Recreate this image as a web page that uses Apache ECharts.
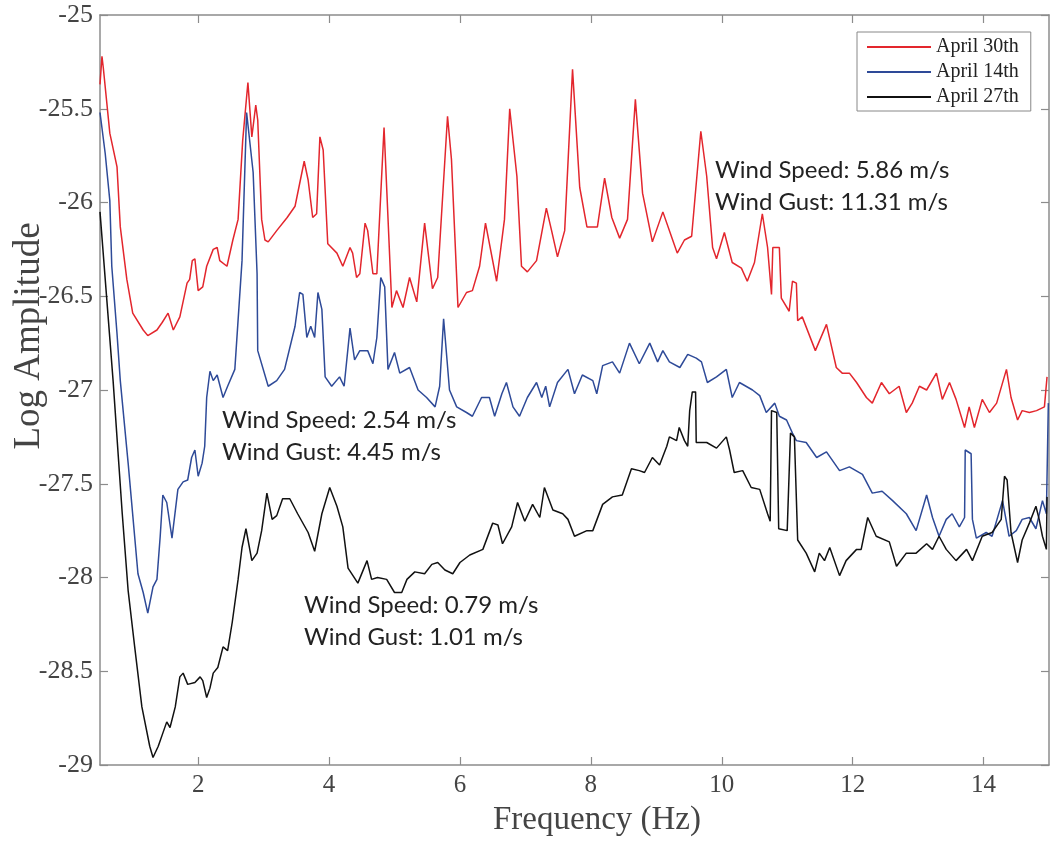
<!DOCTYPE html>
<html>
<head>
<meta charset="utf-8">
<title>Log Amplitude vs Frequency</title>
<script src="https://cdn.jsdelivr.net/npm/echarts@6.0.0/dist/echarts.min.js"></script>
<style>
  html, body { margin: 0; padding: 0; background: #fff; }
  #chart { width: 1054px; height: 845px; }
</style>
</head>
<body>
<div id="chart"></div>
<script>
// April 30th (red)
var redFreq = [0.50,0.53,0.55,0.65,0.76,0.81,0.91,1.00,1.16,1.23,1.37,1.45,1.54,1.62,1.72,1.83,1.87,1.91,1.95,2.00,2.07,2.13,2.23,2.29,2.33,2.44,2.53,2.61,2.68,2.76,2.82,2.84,2.88,2.91,2.97,3.02,3.07,3.20,3.36,3.48,3.55,3.62,3.68,3.75,3.81,3.86,3.91,3.98,4.12,4.21,4.32,4.36,4.42,4.47,4.55,4.59,4.67,4.73,4.84,4.96,5.03,5.13,5.23,5.34,5.46,5.58,5.66,5.81,5.87,5.97,6.10,6.19,6.30,6.39,6.56,6.68,6.76,6.87,6.94,7.03,7.17,7.32,7.40,7.49,7.60,7.72,7.83,7.94,8.10,8.21,8.32,8.44,8.56,8.68,8.79,8.94,9.10,9.25,9.32,9.43,9.54,9.68,9.77,9.86,9.92,10.04,10.16,10.30,10.39,10.50,10.62,10.70,10.76,10.78,10.88,10.91,11.03,11.08,11.14,11.16,11.23,11.43,11.60,11.75,11.84,11.95,12.06,12.21,12.30,12.44,12.56,12.71,12.82,12.91,13.02,13.13,13.28,13.37,13.48,13.58,13.71,13.78,13.86,13.98,14.09,14.20,14.35,14.42,14.52,14.59,14.70,14.81,14.93,14.97];
var redAmp = [-25.37,-25.22,-25.28,-25.63,-25.81,-26.13,-26.41,-26.59,-26.68,-26.71,-26.68,-26.64,-26.59,-26.68,-26.61,-26.43,-26.41,-26.31,-26.30,-26.47,-26.45,-26.34,-26.25,-26.24,-26.31,-26.34,-26.20,-26.09,-25.67,-25.36,-25.65,-25.66,-25.48,-25.56,-26.09,-26.20,-26.21,-26.15,-26.08,-26.02,-25.90,-25.78,-25.88,-26.08,-26.06,-25.65,-25.72,-26.22,-26.27,-26.34,-26.24,-26.27,-26.40,-26.38,-26.11,-26.15,-26.38,-26.38,-25.60,-26.56,-26.47,-26.56,-26.40,-26.53,-26.11,-26.46,-26.40,-25.54,-25.77,-26.56,-26.48,-26.47,-26.34,-26.11,-26.42,-26.09,-25.50,-25.86,-26.34,-26.37,-26.31,-26.03,-26.15,-26.29,-26.15,-25.29,-25.92,-26.13,-26.13,-25.87,-26.08,-26.19,-26.09,-25.45,-25.95,-26.21,-26.05,-26.20,-26.27,-26.20,-26.18,-25.62,-25.86,-26.24,-26.30,-26.16,-26.32,-26.35,-26.42,-26.32,-26.06,-26.24,-26.49,-26.24,-26.24,-26.51,-26.58,-26.42,-26.43,-26.63,-26.61,-26.79,-26.65,-26.88,-26.91,-26.91,-26.96,-27.04,-27.07,-26.96,-27.02,-26.98,-27.12,-27.07,-26.98,-27.00,-26.91,-27.05,-26.96,-27.05,-27.20,-27.09,-27.20,-27.05,-27.12,-27.07,-26.89,-27.04,-27.16,-27.11,-27.12,-27.11,-27.09,-26.93];

// April 14th (blue)
var blueFreq = [0.50,0.52,0.58,0.65,0.68,0.76,0.81,0.93,1.08,1.16,1.23,1.31,1.37,1.42,1.46,1.52,1.60,1.69,1.77,1.84,1.90,1.95,2.00,2.06,2.10,2.13,2.18,2.23,2.29,2.38,2.45,2.56,2.67,2.74,2.84,2.90,2.91,3.07,3.20,3.32,3.48,3.55,3.60,3.66,3.72,3.78,3.83,3.89,3.94,4.04,4.16,4.23,4.32,4.39,4.47,4.59,4.67,4.73,4.79,4.85,4.90,5.00,5.08,5.23,5.36,5.49,5.62,5.69,5.75,5.84,5.95,6.10,6.19,6.33,6.45,6.53,6.64,6.71,6.81,6.91,7.03,7.17,7.25,7.31,7.37,7.49,7.65,7.75,7.87,8.03,8.09,8.18,8.33,8.44,8.59,8.74,8.90,9.02,9.10,9.20,9.36,9.48,9.61,9.69,9.78,9.92,10.07,10.16,10.27,10.47,10.58,10.68,10.81,10.88,10.99,11.08,11.14,11.29,11.45,11.60,11.80,11.95,12.15,12.30,12.45,12.61,12.82,12.97,13.13,13.22,13.32,13.43,13.52,13.63,13.71,13.72,13.81,13.83,13.89,14.04,14.13,14.29,14.39,14.50,14.59,14.70,14.80,14.90,14.96,14.99];
var blueAmp = [-25.52,-25.51,-25.74,-25.99,-26.34,-26.70,-26.95,-27.39,-27.98,-28.08,-28.19,-28.05,-28.01,-27.78,-27.56,-27.60,-27.79,-27.53,-27.49,-27.48,-27.36,-27.32,-27.46,-27.39,-27.30,-27.04,-26.90,-26.95,-26.92,-27.04,-26.98,-26.89,-26.31,-25.52,-25.84,-26.38,-26.79,-26.98,-26.95,-26.89,-26.66,-26.48,-26.49,-26.72,-26.66,-26.72,-26.48,-26.57,-26.93,-26.98,-26.93,-26.98,-26.67,-26.84,-26.79,-26.79,-26.86,-26.72,-26.40,-26.45,-26.89,-26.80,-26.91,-26.88,-27.00,-27.04,-27.09,-26.98,-26.62,-27.00,-27.09,-27.12,-27.14,-27.04,-27.04,-27.14,-27.02,-26.96,-27.09,-27.14,-27.04,-26.96,-27.04,-26.98,-27.09,-26.96,-26.89,-27.02,-26.92,-26.95,-27.02,-26.87,-26.85,-26.91,-26.75,-26.86,-26.75,-26.85,-26.79,-26.85,-26.88,-26.81,-26.83,-26.85,-26.96,-26.93,-26.89,-27.04,-26.96,-27.00,-27.03,-27.12,-27.07,-27.14,-27.16,-27.23,-27.27,-27.28,-27.36,-27.33,-27.43,-27.41,-27.45,-27.55,-27.54,-27.59,-27.66,-27.75,-27.56,-27.68,-27.78,-27.69,-27.66,-27.73,-27.68,-27.32,-27.34,-27.69,-27.79,-27.76,-27.78,-27.59,-27.78,-27.75,-27.69,-27.68,-27.74,-27.59,-27.66,-27.07];

// April 27th (black)
var blackFreq = [0.50,0.70,0.84,0.93,1.03,1.14,1.26,1.31,1.39,1.46,1.52,1.57,1.65,1.72,1.77,1.84,1.95,2.03,2.07,2.13,2.18,2.23,2.30,2.38,2.45,2.52,2.61,2.67,2.73,2.82,2.90,2.97,3.05,3.13,3.20,3.29,3.40,3.52,3.68,3.78,3.89,4.01,4.12,4.21,4.29,4.44,4.58,4.65,4.74,4.88,5.00,5.11,5.19,5.31,5.46,5.57,5.66,5.77,5.89,6.00,6.15,6.35,6.50,6.58,6.65,6.79,6.88,6.99,7.11,7.22,7.29,7.42,7.57,7.65,7.75,7.94,8.03,8.18,8.33,8.48,8.62,8.74,8.82,8.94,9.05,9.16,9.20,9.31,9.35,9.43,9.48,9.51,9.55,9.60,9.61,9.77,9.92,10.07,10.12,10.19,10.32,10.45,10.58,10.70,10.74,10.76,10.84,10.87,11.00,11.05,11.11,11.16,11.29,11.42,11.49,11.57,11.65,11.80,11.90,12.06,12.13,12.23,12.36,12.56,12.67,12.82,12.97,13.13,13.22,13.32,13.43,13.58,13.74,13.83,13.98,14.13,14.27,14.32,14.36,14.42,14.52,14.59,14.70,14.80,14.85,14.90,14.96,14.97];
var blackAmp = [-26.05,-26.95,-27.66,-28.07,-28.37,-28.69,-28.90,-28.96,-28.90,-28.83,-28.77,-28.80,-28.69,-28.53,-28.51,-28.57,-28.56,-28.53,-28.55,-28.64,-28.59,-28.51,-28.48,-28.37,-28.39,-28.24,-28.01,-27.84,-27.74,-27.91,-27.87,-27.75,-27.55,-27.69,-27.67,-27.58,-27.58,-27.66,-27.76,-27.86,-27.66,-27.52,-27.62,-27.73,-27.95,-28.03,-27.91,-28.01,-28.00,-28.01,-28.08,-28.08,-28.01,-27.97,-27.98,-27.93,-27.92,-27.96,-27.98,-27.92,-27.88,-27.85,-27.71,-27.72,-27.82,-27.73,-27.60,-27.70,-27.61,-27.68,-27.52,-27.64,-27.66,-27.69,-27.78,-27.75,-27.75,-27.61,-27.57,-27.56,-27.42,-27.43,-27.44,-27.36,-27.40,-27.30,-27.25,-27.27,-27.20,-27.27,-27.30,-27.11,-27.01,-27.01,-27.28,-27.28,-27.31,-27.25,-27.32,-27.44,-27.43,-27.52,-27.53,-27.66,-27.70,-27.11,-27.12,-27.74,-27.75,-27.23,-27.25,-27.80,-27.87,-27.97,-27.87,-27.91,-27.84,-27.99,-27.91,-27.85,-27.85,-27.68,-27.78,-27.81,-27.94,-27.87,-27.87,-27.82,-27.85,-27.78,-27.85,-27.91,-27.85,-27.91,-27.78,-27.76,-27.69,-27.46,-27.48,-27.76,-27.92,-27.80,-27.71,-27.62,-27.69,-27.78,-27.85,-27.57];

var seriesNames = ['April 30th', 'April 14th', 'April 27th'];
var seriesColors = ['#e3262d', '#2e4a98', '#111111'];
var xTicks = [2, 4, 6, 8, 10, 12, 14];
var notes = [
  ['Wind Speed: 5.86 m/s', 'Wind Gust: 11.31 m/s'],
  ['Wind Speed: 2.54 m/s', 'Wind Gust: 4.45 m/s'],
  ['Wind Speed: 0.79 m/s', 'Wind Gust: 1.01 m/s']
];

function pairs(fs, as) {
  var out = [];
  for (var i = 0; i < fs.length; i++) {
    out.push([fs[i], as[i]]);
  }
  return out;
}

var serifFont = '"Liberation Serif", "Times New Roman", serif';
var sansFont = 'Lato, "Open Sans", sans-serif';
var axisGray = '#8c8c8c';

function xAxisOpt(pos, showLabel) {
  return {
    type: 'value',
    position: pos,
    min: 0.5,
    max: 15,
    axisLine: { show: true, onZero: false, lineStyle: { color: axisGray, width: 1.5 } },
    axisTick: { show: true, inside: true, length: 8, customValues: xTicks, lineStyle: { color: axisGray, width: 1.2 } },
    axisLabel: { show: showLabel, customValues: xTicks, margin: 8, color: '#444', fontFamily: serifFont, fontSize: 25 },
    splitLine: { show: false }
  };
}

function yAxisOpt(pos, showLabel) {
  return {
    type: 'value',
    position: pos,
    min: -29,
    max: -25,
    interval: 0.5,
    axisLine: { show: true, onZero: false, lineStyle: { color: axisGray, width: 1.5 } },
    axisTick: { show: true, inside: true, length: 8, lineStyle: { color: axisGray, width: 1.2 } },
    axisLabel: { show: showLabel, margin: 7, color: '#444', fontFamily: serifFont, fontSize: 26 },
    splitLine: { show: false }
  };
}

var noteSpots = [[715, 160], [222, 410], [304, 595]];
var graphics = [
  {
    type: 'text', x: 597, y: 820,
    style: { text: 'Frequency (Hz)', font: '33px ' + serifFont, fill: '#444', textAlign: 'center', textVerticalAlign: 'middle' }
  },
  {
    type: 'text', x: 29, y: 336, rotation: Math.PI / 2,
    style: { text: 'Log Amplitude', font: '37px ' + serifFont, fill: '#444', textAlign: 'center', textVerticalAlign: 'middle' }
  }
];
for (var n = 0; n < notes.length; n++) {
  graphics.push({
    type: 'text', x: noteSpots[n][0], y: noteSpots[n][1] - 6,
    style: { text: notes[n].join('\n'), font: '24px ' + sansFont, fill: '#222', lineHeight: 32, textAlign: 'left', textVerticalAlign: 'top' }
  });
}

var series = [];
var allData = [pairs(redFreq, redAmp), pairs(blueFreq, blueAmp), pairs(blackFreq, blackAmp)];
for (var s = 0; s < 3; s++) {
  series.push({
    name: seriesNames[s],
    type: 'line',
    data: allData[s],
    symbol: 'none',
    showSymbol: false,
    smooth: false,
    color: seriesColors[s],
    lineStyle: { color: seriesColors[s], width: 1.5 },
    animation: false
  });
}

var chart = echarts.init(document.getElementById('chart'));
chart.setOption({
  backgroundColor: '#fff',
  animation: false,
  grid: { left: 100, right: 5, top: 15, bottom: 80 },
  legend: {
    data: seriesNames,
    orient: 'vertical',
    left: 857,
    top: 32,
    padding: [5, 12, 4, 9],
    itemWidth: 64,
    itemHeight: 14,
    itemGap: 5,
    itemStyle: { opacity: 0 },
    lineStyle: { width: 2 },
    backgroundColor: '#fff',
    borderColor: '#888',
    borderWidth: 1,
    textStyle: { fontFamily: serifFont, fontSize: 20, color: '#222' }
  },
  xAxis: [xAxisOpt('bottom', true), xAxisOpt('top', false)],
  yAxis: [yAxisOpt('left', true), yAxisOpt('right', false)],
  graphic: graphics,
  series: series
});
</script>
</body>
</html>
